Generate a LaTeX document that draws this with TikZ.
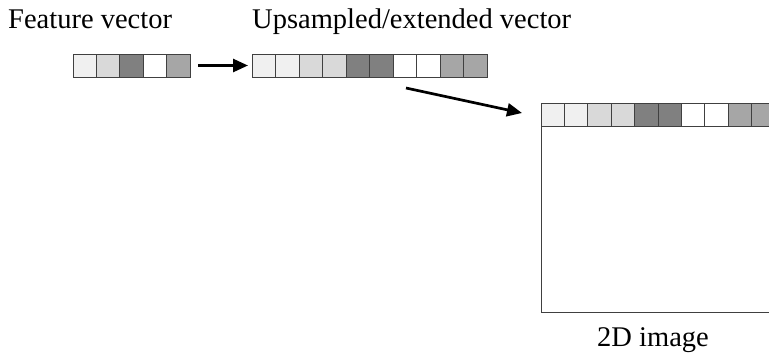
\documentclass[tikz,border=0pt]{standalone}
\usepackage{fontspec}
\setmainfont{Liberation Serif}
\usetikzlibrary{arrows.meta}

\definecolor{cA}{gray}{0.94}
\definecolor{cB}{gray}{0.85}
\definecolor{cC}{gray}{0.50}
\definecolor{cD}{gray}{1.00}
\definecolor{cE}{gray}{0.65}
\definecolor{edge}{gray}{0.25}

\tikzset{
  cell/.style={draw=edge, line width=1pt, minimum height=23pt, inner sep=0pt, outer sep=0pt},
  frame/.style={draw=edge, line width=1pt, inner sep=0pt, outer sep=0pt},
  label/.style={inner sep=0pt, font=\fontsize{28.5}{34}\selectfont},
  flow/.style={line width=2.7pt, -{Triangle[length=15pt,width=13pt]}}
}

\begin{document}
\begin{tikzpicture}[x=1pt, y=-1pt]
  \useasboundingbox (0,0) rectangle (769,357);
  \clip (0,0) rectangle (769,357);

  % captions
  \node[label, anchor=base west] (capf) at (8,28) {Feature vector};
  \node[label, anchor=base west] (capu) at (252,28) {Upsampled/extended vector};

  % feature vector, five cells
  \foreach \c [count=\i] in {cA,cB,cC,cD,cE}
    \node[cell, fill=\c, minimum width=23.4pt] (f\i) at ({73+11.7+23.4*(\i-1)},65.5) {};

  % upsampled vector: every entry repeated twice
  \foreach \c [count=\i] in {cA,cA,cB,cB,cC,cC,cD,cD,cE,cE}
    \node[cell, fill=\c, minimum width=23.5pt] (u\i) at ({252+11.75+23.5*(\i-1)},65.5) {};

  % 2D image: the vector forms its first row
  \node[frame, anchor=north west, minimum width=235pt, minimum height=209pt] (img) at (541,103) {};
  \foreach \c [count=\i] in {cA,cA,cB,cB,cC,cC,cD,cD,cE,cE}
    \node[cell, fill=\c, minimum width=23.4pt] (g\i) at ({541+11.7+23.4*(\i-1)},114.5) {};
  \node[label, anchor=base] (capi) at (653,346) {2D image};

  % arrows
  \coordinate (a1s) at (198,65.5);
  \coordinate (a2s) at (406,88);
  \coordinate (a2e) at (522,113);
  \draw[flow] (a1s) -- ([xshift=-4pt]u1.west);
  \draw[flow] (a2s) -- (a2e);
\end{tikzpicture}
\end{document}
